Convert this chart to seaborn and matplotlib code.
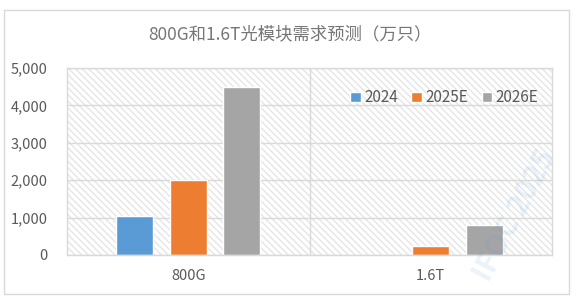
import matplotlib
matplotlib.use("Agg")
import matplotlib.pyplot as plt
import seaborn as sns
import pandas as pd
from matplotlib.patches import Rectangle
from matplotlib.ticker import FuncFormatter

categories = ["800G", "1.6T"]
series = ["2024", "2025E", "2026E"]
values_2024 = [1050, 0]
values_2025 = [2000, 250]
values_2026 = [4500, 800]
colors = ["#5B9BD5", "#ED7D31", "#A5A5A5"]
title = "800G和1.6T光模块需求预测（万只）"

rows = []
for s, vals in zip(series, [values_2024, values_2025, values_2026]):
    for c, v in zip(categories, vals):
        rows.append({"cat": c, "series": s, "value": v})
df = pd.DataFrame(rows)

sns.set_theme(style="white")
plt.rcParams['font.family'] = ['Noto Sans CJK SC', 'DejaVu Sans']
plt.rcParams['hatch.color'] = '#E3E3E3'
plt.rcParams['hatch.linewidth'] = 0.9

fig = plt.figure(figsize=(5.8, 3.01), dpi=100)
fig.patch.set_facecolor("white")
# outer border
fig.patches.append(Rectangle((4/580, 1-294/301), 565/580, 284/301, transform=fig.transFigure,
                             fill=False, edgecolor="#D9D9D9", linewidth=1.0))

ax = fig.add_axes([67/580, 1-255/301, (552-67)/580, (255-68)/301])
ax.set_facecolor("white")
ax.patch.set_hatch('\\\\\\\\\\')
ax.patch.set_edgecolor('#E3E3E3')

sns.barplot(data=df, x="cat", y="value", hue="series", palette=colors,
            width=0.663, gap=0.31, ax=ax, saturation=1, legend=True,
            order=categories, hue_order=series)

ax.set_xlim(-0.5, 1.5)
ax.set_ylim(0, 5000)
ax.set_yticks(range(0, 5001, 1000))
ax.yaxis.set_major_formatter(FuncFormatter(lambda v, p: f"{int(v):,}"))
ax.grid(axis="y", color="#D9D9D9", linewidth=1.0)
ax.axvline(0.5, color="#D9D9D9", linewidth=1.0)
ax.set_axisbelow(True)
for sp in ax.spines.values():
    sp.set_color("#D9D9D9")
    sp.set_linewidth(1.0)
ax.set_xlabel("")
ax.set_ylabel("")
ax.tick_params(axis="both", length=0, labelsize=10.5, colors="#595959")
ax.tick_params(axis="y", pad=14)
ax.tick_params(axis="x", pad=10)

leg = ax.legend(loc="upper right", bbox_to_anchor=(1.0, 0.96), ncol=3, frameon=False,
                fontsize=11, handlelength=0.7, handleheight=0.7, handletextpad=0.2,
                columnspacing=0.9, labelcolor="#595959")

fig.text(290/580, 1-34/301, title, ha="center", va="center", fontsize=12.5, color="#767676")

fig.text(515/580, 1-215/301, "IFOC 2025", ha="center", va="center", fontsize=21,
         color="#5B9BD5", alpha=0.12, rotation=62, fontweight="bold")

fig.savefig("out.png", dpi=100, facecolor="white")
